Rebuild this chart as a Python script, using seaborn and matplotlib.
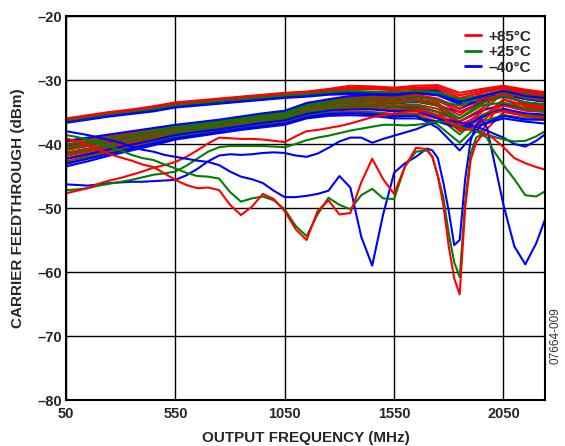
import numpy as np
import pandas as pd
import matplotlib
matplotlib.use("Agg")
import matplotlib.pyplot as plt
import seaborn as sns
from matplotlib.lines import Line2D

# temperature groups and their colours
TEMPS = ["+85°C", "+25°C", "\u201340°C"]
COLORS = {"+85°C": "#ff0000", "+25°C": "#008000", "\u201340°C": "#0000ff"}

XTICKS = [50, 550, 1050, 1550, 2050]
YTICKS = [-80, -70, -60, -50, -40, -30, -20]
YTICK_LABELS = ["\u201380", "\u201370", "\u201360", "\u201350", "\u201340", "\u201330", "\u201320"]

# frequency grid of the main bundle of curves (MHz)
FREQ = [50, 150, 250, 350, 450, 550, 650, 750, 850, 950, 1050, 1150, 1250, 1350,
        1450, 1550, 1650, 1750, 1850, 1950, 2050, 2150, 2240]

# upper thin band
top_r1 = [-36.0, -35.5, -35.0, -34.6, -34.1, -33.5, -33.2, -32.9, -32.6, -32.3, -32.0, -31.8, -31.4, -30.9, -31.0, -31.2, -30.9, -30.8, -32.0, -31.4, -30.9, -31.5, -31.9]
top_r2 = [-36.2, -35.7, -35.2, -34.8, -34.3, -33.7, -33.4, -33.1, -32.8, -32.5, -32.2, -32.0, -31.7, -31.4, -31.4, -31.6, -31.4, -31.4, -32.8, -32.0, -31.3, -31.9, -32.3]
top_r3 = [-36.1, -35.6, -35.1, -34.7, -34.2, -33.6, -33.3, -33.0, -32.7, -32.4, -32.1, -31.9, -31.5, -31.2, -31.2, -31.4, -31.2, -31.1, -32.4, -31.7, -31.1, -31.7, -32.1]
top_g1 = [-36.3, -35.8, -35.3, -34.9, -34.5, -33.9, -33.6, -33.3, -33.0, -32.7, -32.4, -32.2, -31.9, -31.7, -31.8, -31.9, -31.7, -31.9, -33.0, -32.4, -31.6, -32.0, -32.5]
top_g2 = [-36.5, -36.0, -35.5, -35.0, -34.6, -34.0, -33.7, -33.4, -33.1, -32.8, -32.5, -32.3, -32.0, -31.8, -31.9, -32.0, -31.8, -32.0, -33.3, -32.6, -31.8, -32.2, -32.6]
top_b1 = [-36.5, -36.0, -35.5, -35.1, -34.7, -34.1, -33.8, -33.5, -33.2, -32.9, -32.6, -32.4, -32.1, -32.0, -32.1, -32.2, -31.7, -31.7, -33.4, -32.8, -31.9, -32.4, -32.6]
top_b2 = [-36.7, -36.2, -35.7, -35.3, -34.9, -34.3, -34.0, -33.7, -33.4, -33.1, -32.8, -32.6, -32.3, -32.2, -32.4, -32.5, -32.1, -32.4, -33.8, -33.3, -32.3, -32.8, -32.9]

# lower wide band
low_r1 = [-39.7, -39.2, -38.7, -38.2, -37.6, -37.1, -36.7, -36.3, -35.8, -35.3, -34.9, -33.7, -33.1, -32.6, -32.5, -32.6, -32.3, -32.9, -34.5, -32.0, -31.0, -32.3, -32.6]
low_r2 = [-40.5, -39.9, -39.3, -38.8, -38.2, -37.6, -37.2, -36.7, -36.2, -35.8, -35.4, -34.2, -33.7, -33.3, -33.1, -33.3, -33.0, -33.8, -35.5, -33.0, -32.3, -33.5, -33.8]
low_r3 = [-41.3, -40.7, -40.0, -39.4, -38.7, -38.0, -37.6, -37.1, -36.6, -36.2, -35.8, -34.7, -34.2, -33.9, -33.8, -34.0, -33.8, -34.5, -36.5, -34.5, -31.5, -34.2, -34.5]
low_r4 = [-41.9, -41.2, -40.5, -39.8, -39.1, -38.4, -37.9, -37.5, -37.0, -36.5, -36.1, -35.0, -34.6, -34.3, -34.3, -34.6, -34.4, -35.5, -37.0, -35.5, -34.0, -34.8, -35.0]
low_r5 = [-42.7, -41.9, -41.1, -40.4, -39.7, -38.8, -38.4, -37.9, -37.4, -37.0, -36.6, -35.5, -35.1, -34.9, -35.0, -35.3, -35.2, -36.0, -36.5, -38.5, -35.0, -35.6, -35.8]
low_r6 = [-40.1, -39.5, -39.0, -38.5, -37.9, -37.3, -36.9, -36.5, -36.0, -35.6, -35.2, -33.6, -33.2, -32.8, -32.6, -32.8, -32.4, -33.2, -35.0, -33.8, -31.8, -32.8, -33.2]
low_r7 = [-40.9, -40.3, -39.6, -39.1, -38.5, -37.8, -37.4, -36.9, -36.4, -36.0, -35.6, -34.0, -33.5, -33.2, -33.3, -33.6, -33.0, -33.5, -37.0, -38.0, -33.0, -34.0, -34.3]
low_r8 = [-41.7, -41.0, -40.3, -39.6, -38.9, -38.2, -37.8, -37.3, -36.8, -36.4, -36.0, -34.5, -34.0, -33.6, -33.5, -33.7, -33.2, -34.0, -37.5, -35.0, -32.0, -33.8, -34.0]
low_r9 = [-42.3, -41.5, -40.8, -40.1, -39.4, -38.6, -38.1, -37.7, -37.2, -36.8, -36.4, -35.0, -34.4, -34.0, -33.9, -34.2, -34.0, -35.0, -38.0, -36.0, -33.0, -34.5, -34.6]
low_r10 = [-43.1, -42.3, -41.5, -40.7, -39.9, -39.1, -38.6, -38.1, -37.6, -37.2, -36.8, -35.8, -35.4, -35.2, -35.3, -35.6, -35.5, -36.5, -37.5, -37.0, -35.5, -36.0, -36.2]
low_g1 = [-40.1, -39.6, -39.0, -38.5, -37.9, -37.3, -36.9, -36.5, -36.0, -35.5, -35.1, -33.9, -33.4, -33.0, -32.8, -33.0, -32.6, -33.2, -34.0, -32.6, -31.8, -32.7, -33.0]
low_g2 = [-41.5, -40.9, -40.2, -39.5, -38.9, -38.2, -37.7, -37.3, -36.8, -36.3, -35.9, -34.8, -34.3, -34.0, -34.0, -34.2, -34.0, -35.0, -36.0, -34.0, -33.5, -34.5, -34.8]
low_g3 = [-42.9, -42.1, -41.3, -40.6, -39.8, -38.9, -38.5, -38.0, -37.5, -37.1, -36.7, -35.6, -35.2, -35.1, -35.1, -35.5, -35.4, -37.0, -39.8, -36.5, -35.5, -36.0, -36.0]
low_g4 = [-40.7, -40.1, -39.5, -39.0, -38.3, -37.7, -37.3, -36.8, -36.3, -35.9, -35.5, -34.2, -33.8, -33.5, -33.4, -33.6, -33.3, -34.0, -36.0, -33.5, -32.5, -33.5, -33.8]
low_g5 = [-42.3, -41.6, -40.8, -40.1, -39.4, -38.6, -38.1, -37.7, -37.2, -36.7, -36.3, -35.2, -34.7, -34.5, -34.5, -34.8, -34.6, -35.8, -38.5, -35.5, -34.5, -35.5, -35.6]
low_b1 = [-39.5, -39.0, -38.5, -38.0, -37.5, -37.0, -36.6, -36.2, -35.7, -35.2, -34.8, -33.6, -33.0, -32.5, -32.3, -32.4, -32.0, -32.3, -33.5, -32.5, -31.7, -32.5, -32.8]
low_b2 = [-40.9, -40.3, -39.7, -39.1, -38.4, -37.8, -37.4, -36.9, -36.4, -36.0, -35.6, -34.4, -33.9, -33.6, -33.5, -33.7, -33.4, -34.0, -35.0, -33.5, -32.6, -33.5, -33.9]
low_b3 = [-42.3, -41.6, -40.8, -40.1, -39.4, -38.6, -38.1, -37.7, -37.2, -36.7, -36.3, -35.3, -34.8, -34.6, -34.6, -34.9, -34.8, -36.0, -37.5, -35.8, -34.5, -35.2, -35.4]
low_b4 = [-43.1, -42.3, -41.5, -40.7, -39.9, -39.1, -38.6, -38.1, -37.6, -37.2, -36.8, -35.8, -35.3, -35.2, -35.3, -35.7, -35.6, -37.5, -41.0, -37.0, -35.6, -36.2, -36.2]
low_b5 = [-43.5, -42.7, -41.8, -41.0, -40.2, -39.3, -38.8, -38.3, -37.8, -37.4, -37.0, -36.0, -35.6, -35.5, -35.6, -36.0, -36.0, -36.5, -37.5, -37.0, -36.0, -36.5, -36.8]
low_b6 = [-40.3, -39.7, -39.2, -38.6, -38.0, -37.5, -37.0, -36.6, -36.1, -35.6, -35.2, -34.0, -33.5, -33.0, -32.9, -33.1, -32.7, -33.0, -34.5, -33.0, -32.2, -33.0, -33.4]
low_b7 = [-41.7, -41.0, -40.3, -39.6, -38.9, -38.2, -37.8, -37.3, -36.8, -36.4, -36.0, -34.9, -34.4, -34.1, -34.0, -34.3, -34.2, -35.0, -36.5, -34.8, -33.8, -34.5, -34.9]

# finer grid for the outlying parts
OUT_FREQ = [50, 100, 150, 200, 250, 300, 350, 400, 450, 500, 550, 600, 650, 700, 750, 800,
            850, 900, 950, 1000, 1050, 1100, 1150, 1200, 1250, 1300, 1350, 1400, 1450, 1500,
            1550, 1600, 1650, 1700, 1725, 1750, 1775, 1800, 1825, 1850, 1875, 1900, 1925,
            1950, 1975, 2000, 2050, 2100, 2150, 2200, 2240]

rise_r = [-47.7, -47.3, -46.9, -46.2, -45.7, -45.3, -44.8, -44.3, -43.7, -43.3, -42.8, -42.0, -41.0, -39.9, -39.0, -39.1,
          -39.2, -39.2, -39.3, -39.5, -39.7, -38.8, -38.0, -37.8, -37.5, -37.2, -36.8, -36.3, -35.8, -35.5,
          -35.3, -35.0, -34.8, -35.0, -35.2, -35.5, -36.0, -36.6, -37.2, -37.6, -37.8, -37.7, -37.2,
          -36.5, -35.8, -35.2, -34.8, -35.2, -35.6, -35.8, -35.9]
rise_g = [-47.2, -47.1, -46.9, -46.5, -46.2, -45.9, -45.6, -45.2, -44.8, -44.6, -44.3, -43.4, -42.3, -41.2, -40.5, -40.3,
          -40.3, -40.3, -40.3, -40.4, -40.5, -40.0, -39.4, -39.0, -38.7, -38.3, -37.9, -37.6, -37.3, -37.0,
          -37.0, -37.1, -37.0, -36.8, -36.6, -36.5, -36.5, -36.7, -37.0, -37.3, -37.5, -37.8, -38.0,
          -38.2, -38.5, -38.8, -39.3, -39.6, -39.5, -38.8, -38.0]
rise_b = [-46.3, -46.4, -46.5, -46.3, -46.1, -46.0, -45.9, -45.9, -45.8, -45.7, -45.6, -44.9, -43.9, -42.7, -41.8, -41.6,
          -41.7, -41.6, -41.4, -41.3, -41.4, -41.8, -42.0, -41.5, -40.6, -39.6, -39.0, -39.0, -39.8, -39.2,
          -38.7, -38.2, -37.7, -37.0, -36.8, -36.5, -36.3, -36.3, -36.5, -36.6, -36.8, -37.0, -37.3,
          -37.6, -37.9, -38.3, -39.0, -40.0, -40.4, -39.5, -38.5]
fall_r = [-39.1, -39.6, -40.2, -40.9, -41.6, -42.1, -42.6, -43.2, -43.6, -44.6, -45.6, -46.4, -46.9, -46.8, -47.2, -49.5,
          -51.1, -49.8, -47.8, -48.6, -50.5, -53.3, -55.0, -50.5, -48.8, -51.0, -50.8, -46.0, -42.3, -45.5,
          -47.8, -43.5, -40.6, -40.8, -42.0, -45.0, -49.5, -56.0, -61.0, -63.5, -50.0, -42.5, -39.8,
          -38.7, -38.5, -39.0, -40.5, -42.2, -43.0, -43.6, -44.0]
fall_g = [-38.6, -38.9, -39.3, -39.9, -40.4, -41.0, -41.7, -42.2, -42.5, -43.2, -43.8, -44.5, -45.0, -45.1, -45.4, -47.5,
          -49.0, -48.5, -48.2, -48.8, -50.2, -52.8, -54.4, -51.0, -48.4, -49.5, -50.2, -48.0, -47.0, -48.5,
          -48.6, -43.5, -41.2, -41.0, -42.0, -45.0, -48.3, -54.0, -58.5, -60.8, -49.0, -41.5, -39.0,
          -38.5, -39.0, -40.8, -43.3, -45.5, -48.0, -48.2, -47.4]
fall_b = [-38.0, -38.3, -38.6, -39.0, -39.4, -39.8, -40.4, -40.9, -41.2, -41.7, -42.0, -42.3, -42.6, -42.8, -43.3, -44.3,
          -45.1, -45.5, -46.1, -47.3, -48.3, -48.3, -48.1, -47.8, -47.3, -45.0, -46.8, -54.5, -59.0, -51.0,
          -44.5, -43.0, -42.0, -40.7, -41.0, -42.2, -46.0, -50.5, -55.8, -55.0, -45.5, -39.5, -37.0,
          -36.2, -37.5, -41.5, -49.5, -56.0, -58.8, -55.5, -51.8]

R, G, B = TEMPS
# drawing order: mid-band blues, then reds, then greens, then edge blues on top
bundle = [
    (B, top_b2), (G, top_g2), (R, top_r2), (B, top_b1), (G, top_g1), (R, top_r1), (R, top_r3),
    (B, low_b2), (B, low_b6), (B, low_b7),
    (R, low_r10), (R, low_r5), (R, low_r9), (R, low_r4), (R, low_r8), (R, low_r3),
    (R, low_r7), (R, low_r2), (R, low_r6), (R, low_r1),
    (G, low_g3), (G, low_g5), (G, low_g2), (G, low_g4), (G, low_g1),
    (B, low_b3), (B, low_b4), (B, low_b5), (B, low_b1),
]
outliers = [
    (B, rise_b), (G, rise_g), (R, rise_r), (B, fall_b), (G, fall_g), (R, fall_r),
]

sns.set_style("white")
plt.rcParams["font.family"] = ["Liberation Sans", "DejaVu Sans"]
plt.rcParams["font.weight"] = "bold"

fig = plt.figure(figsize=(5.65, 4.46), dpi=100)
ax = fig.add_axes([0.1168, 0.1031, 0.8478, 0.861])

for freqs, curves in ((FREQ, bundle), (OUT_FREQ, outliers)):
    for temp, vals in curves:
        sns.lineplot(x=freqs, y=vals, color=COLORS[temp], linewidth=1.5,
                     sort=False, estimator=None, ax=ax)

ax.set_xlim(50, 2240)
ax.set_ylim(-80, -20)
ax.set_xticks(XTICKS)
ax.set_xticklabels([str(t) for t in XTICKS], fontsize=10.5, fontweight="bold")
ax.set_yticks(YTICKS)
ax.set_yticklabels(YTICK_LABELS, fontsize=10.5, fontweight="bold")
ax.tick_params(axis="x", length=0, pad=5)
ax.tick_params(axis="y", length=0, pad=3)
ax.grid(True, color="black", linewidth=1.0)
ax.set_axisbelow(True)
for s in ax.spines.values():
    s.set_color("black")
    s.set_linewidth(1.5)

ax.set_xlabel("OUTPUT FREQUENCY (MHz)", fontsize=11, fontweight="bold", labelpad=7)
ax.set_ylabel("CARRIER FEEDTHROUGH (dBm)", fontsize=11, fontweight="bold", labelpad=9)

handles = [Line2D([0], [0], color=COLORS[t], linewidth=2) for t in TEMPS]
ax.legend(handles, TEMPS, loc="upper right", frameon=False, handlelength=1.0,
          handletextpad=0.5, labelspacing=0.1, borderaxespad=0.5,
          prop={"size": 11, "weight": "bold"})

fig.text(0.984, 0.247, "07664-009", rotation=90, fontsize=8.5, fontweight="normal",
         color="#333333", ha="center", va="center")

fig.savefig("out.png", dpi=100)
